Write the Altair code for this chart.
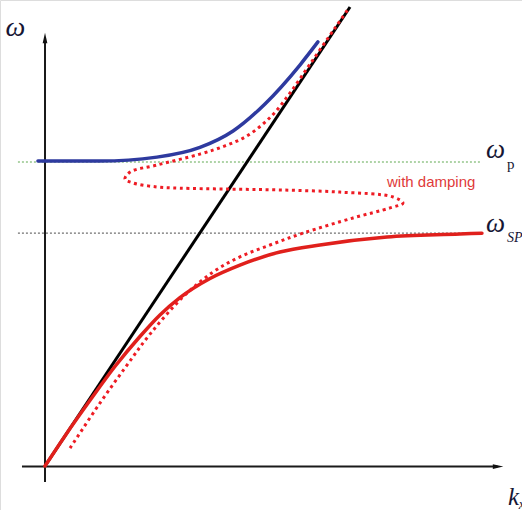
import altair as alt
import pandas as pd

# Dispersion of surface plasmon polaritons: wavevector k_x (scaled so the light line is w = k)
# and frequency w (scaled so that w_p = 1).
W_P = 1.0
W_SP = 0.766

# light line w = c k
light_k = [0.0, 1.51]
light_w = [0.0, 1.51]

# upper (bulk) branch above w_p
upper_k = [-0.035, 0.272, 0.554, 0.767, 0.931, 1.089, 1.262, 1.351]
upper_w = [1.003, 1.003, 1.016, 1.048, 1.102, 1.191, 1.319, 1.395]

# lower (surface plasmon) branch approaching w_sp
lower_k = [0.0, 0.099, 0.223, 0.347, 0.470, 0.569, 0.668, 0.817, 0.965, 1.163,
           1.361, 1.693, 2.054, 2.163]
lower_w = [0.0, 0.099, 0.216, 0.328, 0.426, 0.497, 0.554, 0.617, 0.661, 0.704,
           0.727, 0.753, 0.763, 0.766]

# back-bending branch with damping
damp_k = [0.124, 0.272, 0.406, 0.520, 0.683, 0.832, 0.965, 1.114, 1.277, 1.525,
          1.708, 1.772, 1.723, 1.460, 1.163, 0.901, 0.668, 0.554, 0.436, 0.396,
          0.421, 0.554, 0.767, 0.891, 0.990, 1.074, 1.139, 1.213, 1.312, 1.436, 1.505]
damp_w = [0.059, 0.207, 0.332, 0.434, 0.556, 0.638, 0.688, 0.727, 0.766, 0.816,
          0.849, 0.865, 0.885, 0.901, 0.908, 0.911, 0.914, 0.918, 0.931, 0.944,
          0.967, 0.990, 1.026, 1.053, 1.082, 1.122, 1.164, 1.227, 1.322, 1.441, 1.507]

X_DOMAIN = [-0.2228, 2.3614]
Y_DOMAIN = [-0.1447, 1.5329]

xs = alt.Scale(domain=X_DOMAIN, nice=False, zero=False)
ys = alt.Scale(domain=Y_DOMAIN, nice=False, zero=False)


def X(f="k"):
    return alt.X(f"{f}:Q", scale=xs, axis=None)


def Y(f="w"):
    return alt.Y(f"{f}:Q", scale=ys, axis=None)


def curve(ks, ws):
    return pd.DataFrame({"k": ks, "w": ws, "i": range(len(ks))})


# horizontal reference levels
wp_line = alt.Chart(pd.DataFrame({"k": [-0.134], "k2": [2.153], "w": [W_P]})).mark_rule(
    color="#5fa850", strokeWidth=1, strokeDash=[2, 2]
).encode(x=X(), x2="k2:Q", y=Y())

wsp_line = alt.Chart(pd.DataFrame({"k": [-0.134], "k2": [2.163], "w": [W_SP]})).mark_rule(
    color="#707070", strokeWidth=1.3, strokeDash=[2, 2]
).encode(x=X(), x2="k2:Q", y=Y())

# axes
y_axis = alt.Chart(pd.DataFrame({"k": [0.0], "w": [-0.053], "w2": [1.41]})).mark_rule(
    color="#1a1a1a", strokeWidth=2
).encode(x=X(), y=Y(), y2="w2:Q")

x_axis = alt.Chart(pd.DataFrame({"k": [-0.114], "k2": [2.24], "w": [-0.002]})).mark_rule(
    color="#1a1a1a", strokeWidth=2
).encode(x=X(), x2="k2:Q", y=Y())

arrow_up = alt.Chart(pd.DataFrame({"k": [0.0], "w": [1.408]})).mark_point(
    shape="M0,-1L0.45,1L-0.45,1Z", size=110, filled=True, color="#111111", opacity=1
).encode(x=X(), y=Y())

arrow_right = alt.Chart(pd.DataFrame({"k": [2.243], "w": [-0.002]})).mark_point(
    shape="M1,0L-1,-0.45L-1,0.45Z", size=110, filled=True, color="#111111", opacity=1
).encode(x=X(), y=Y())

light = alt.Chart(curve(light_k, light_w)).mark_line(
    color="#000000", strokeWidth=3
).encode(x=X(), y=Y(), order="i:Q")

upper = alt.Chart(curve(upper_k, upper_w)).mark_line(
    color="#2e3a9f", strokeWidth=3.5, interpolate="monotone", strokeCap="round"
).encode(x=X(), y=Y(), order="i:Q")

lower = alt.Chart(curve(lower_k, lower_w)).mark_line(
    color="#e0201c", strokeWidth=3.5, interpolate="monotone", strokeCap="round"
).encode(x=X(), y=Y(), order="i:Q")

damped = alt.Chart(curve(damp_k, damp_w)).mark_line(
    color="#ee1c24", strokeWidth=3, strokeDash=[3, 3.6], interpolate="catmull-rom"
).encode(x=X(), y=Y(), order="i:Q")

SERIF = "Liberation Serif"
INK = "#161634"


def label(k, w, txt, size, font=SERIF, italic=True, color=INK, baseline="alphabetic"):
    return alt.Chart(pd.DataFrame({"k": [k], "w": [w], "t": [txt]})).mark_text(
        font=font, fontSize=size, fontStyle="italic" if italic else "normal",
        color=color, align="left", baseline=baseline
    ).encode(x=X(), y=Y(), text="t:N")


texts = [
    label(-0.196, 1.416, "ω", 28),
    label(2.183, 1.013, "ω", 27),
    label(2.287, 0.978, "p", 15, italic=False),
    label(2.183, 0.770, "ω", 27),
    label(2.287, 0.737, "SP", 14),
    label(2.292, -0.128, "k", 25),
    label(2.345, -0.141, "x", 14),
    label(1.693, 0.934, "with damping", 15, font="Liberation Sans", italic=False,
          color="#e03a3a", baseline="middle"),
]

chart = alt.layer(
    wp_line, wsp_line, y_axis, x_axis, arrow_up, arrow_right,
    light, upper, lower, damped, *texts
).properties(
    width=522, height=510, padding=0, autosize=alt.AutoSizeParams(type="none")
).configure_view(stroke=None).configure(background="white")

chart.save("out.html", embed_options={"renderer": "svg", "actions": False})
